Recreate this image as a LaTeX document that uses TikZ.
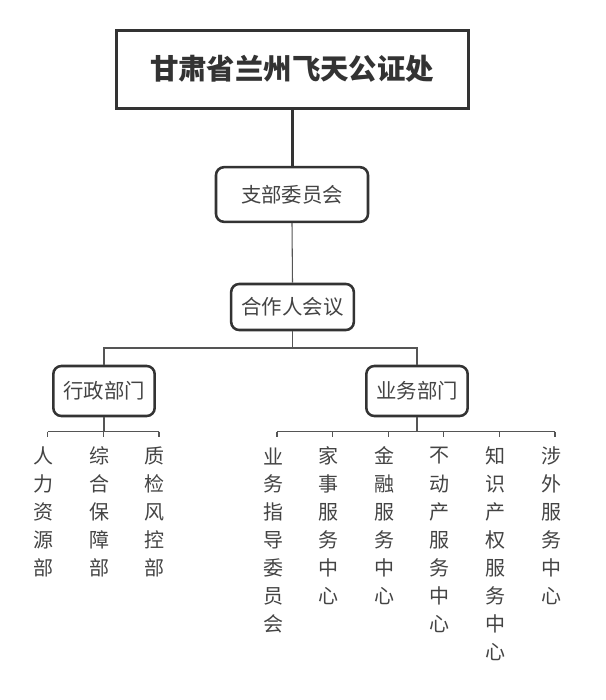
\documentclass[tikz,border=0pt]{standalone}
\usepackage{fontspec}
\newfontfamily\cjk{Noto Sans CJK SC}
\usetikzlibrary{calc}
\definecolor{dk}{HTML}{333333}
\definecolor{tx}{HTML}{444444}
\definecolor{ln}{HTML}{555555}
\tikzset{
  titlebox/.style={draw=dk, line width=2.25pt, minimum width=264pt, minimum height=58.5pt, inner sep=0pt, font=\cjk\bfseries\fontsize{21.3pt}{26pt}\selectfont, text=dk},
  rbox/.style={draw=dk, line width=1.9pt, rounded corners=6pt, inner sep=0pt, font=\cjk\fontsize{15.3pt}{18pt}\selectfont, text=tx},
  leaf/.style={inner sep=0pt, font=\cjk\fontsize{15pt}{18pt}\selectfont, text=tx},
  thick line/.style={draw=dk, line width=2.25pt},
  thin line/.style={draw=ln, line width=0.8pt},
}
\newcommand\vcol[3]{%
  \foreach \ch [count=\k] in {#3} {\node[leaf] (#1-\k) at (#2, {456+28*(\k-1)}) {\ch};}%
}
\begin{document}
\begin{tikzpicture}[x=0.75pt, y=-0.75pt]
\useasboundingbox (0,0) rectangle (606,700);
\fill[white] (0,0) rectangle (606,700);

\node[titlebox] (top) at (292,69) {甘肃省兰州飞天公证处};
\node[rbox, minimum width=114pt, minimum height=41pt] (zb) at (292,194.5) {支部委员会};
\node[rbox, minimum width=92pt, minimum height=34.5pt] (hz) at (292.5,307) {合作人会议};
\node[rbox, minimum width=76pt, minimum height=37.5pt] (xz) at (104,391) {行政部门};
\node[rbox, minimum width=76pt, minimum height=37.5pt] (yw) at (417,391) {业务部门};

\draw[thick line] (top.south -| zb.north) -- (zb.north);
\draw[thin line] (zb.south) -- (hz.north);

% bus from 合作人会议
\coordinate (b1) at (292.5,348);
\draw[thin line] (hz.south) -- (b1);
\draw[thin line] (xz.north) |- (b1) -| (yw.north);

% left leaves
\vcol{l1}{43.5}{人,力,资,源,部}
\vcol{l2}{99}{综,合,保,障,部}
\vcol{l3}{154.5}{质,检,风,控,部}
\coordinate (lb) at (104,431.5);
\draw[thin line] (xz.south) -- (lb);
\draw[thin line] (47.5,431.5) -- (159,431.5);
\foreach \x/\n in {47.5/l1,103.5/l2,159/l3} {
  \coordinate (t-\n) at (\x,436.5);
  \draw[thin line] (\x,431.5) -- (t-\n);
}

% right leaves
\vcol{r1}{273}{业,务,指,导,委,员,会}
\vcol{r2}{328.6}{家,事,服,务,中,心}
\vcol{r3}{384.2}{金,融,服,务,中,心}
\vcol{r4}{439.8}{不,动,产,服,务,中,心}
\vcol{r5}{495.4}{知,识,产,权,服,务,中,心}
\vcol{r6}{551}{涉,外,服,务,中,心}
\coordinate (rb) at (417,431.5);
\draw[thin line] (yw.south) -- (rb);
\draw[thin line] (277,431.5) -- (555,431.5);
\foreach \x/\n in {277/r1,332.6/r2,388.2/r3,443.8/r4,499.4/r5,555/r6} {
  \coordinate (t-\n) at (\x,436.5);
  \draw[thin line] (\x,431.5) -- (t-\n);
}
\end{tikzpicture}
\end{document}
